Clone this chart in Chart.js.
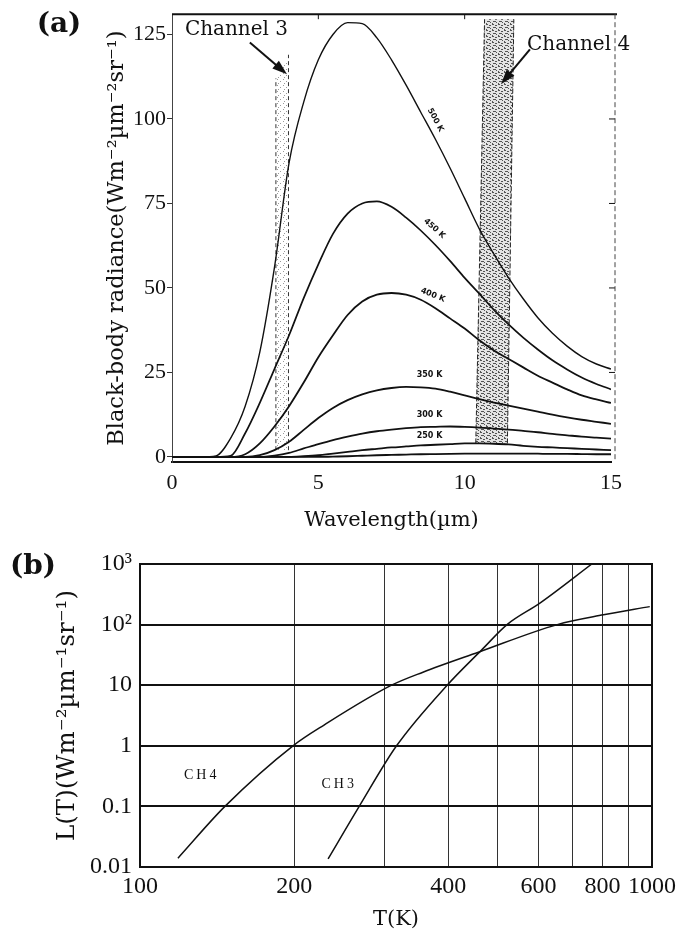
<!DOCTYPE html>
<html>
<head>
<meta charset="utf-8">
<script src="https://cdn.jsdelivr.net/npm/chart.js@4.4.0/dist/chart.umd.min.js"></script>
<style>
  html, body { margin: 0; padding: 0; background: #fff; }
  #wrap { position: relative; width: 687px; height: 935px; overflow: hidden; }
  #ca { position: absolute; left: 0; top: 0; }
  #cb { position: absolute; left: 0; top: 540px; }
</style>
</head>
<body>
<div id="wrap">
  <canvas id="ca" width="687" height="545"></canvas>
  <canvas id="cb" width="687" height="395"></canvas>
</div>
<script>
// ---- (a) black-body radiance vs wavelength ----
const WL = [0, 1, 1.5, 2, 2.5, 3, 3.5, 4, 4.5, 5, 5.5, 6, 6.5, 7, 7.5, 8, 8.5, 9, 9.5, 10, 10.5, 11, 11.5, 12, 12.5, 13, 13.5, 14, 14.5, 15];
const R500 = [0, 0, 0.3, 5.5, 15, 31, 56, 87, 105, 117.5, 125, 128.5, 128.2, 124, 117.5, 110, 102, 94, 85.5, 76.5, 67.5, 60, 53, 46.8, 41.2, 36.6, 32.8, 29.7, 27.5, 26];
const R450 = [0, 0, 0, 0.3, 7, 16, 26, 36, 47, 57, 66, 72, 75, 75.6, 74, 70.8, 67, 62.7, 58, 53, 48.3, 43.5, 39.2, 35.3, 31.8, 28.6, 25.9, 23.5, 21.6, 20];
const R400 = [0, 0, 0, 0, 0.8, 4, 9, 15, 22, 29.5, 36, 42, 46, 48, 48.5, 48, 46.5, 44, 41, 38, 34.5, 31.5, 29, 26.5, 24, 22, 20, 18.2, 17, 16];
const R350 = [0, 0, 0, 0, 0, 0.5, 2, 4.5, 8, 11.5, 14.5, 16.8, 18.5, 19.7, 20.4, 20.7, 20.6, 20.2, 19.3, 18.2, 17.1, 16.1, 15.2, 14.3, 13.4, 12.5, 11.7, 11, 10.4, 9.8];
const R300 = [0, 0, 0, 0, 0, 0, 0.4, 1.2, 2.5, 3.8, 5, 6, 6.9, 7.6, 8.1, 8.5, 8.8, 8.9, 9, 8.9, 8.7, 8.4, 8.1, 7.7, 7.3, 6.8, 6.4, 6, 5.7, 5.4];
const R250 = [0, 0, 0, 0, 0, 0, 0, 0, 0.2, 0.5, 1, 1.5, 2, 2.4, 2.8, 3.1, 3.4, 3.6, 3.8, 4, 4, 3.9, 3.7, 3.3, 3, 2.8, 2.6, 2.4, 2.2, 2];
const R200 = [0, 0, 0, 0, 0, 0, 0, 0, 0, 0, 0.1, 0.2, 0.35, 0.5, 0.6, 0.7, 0.8, 0.85, 0.9, 0.95, 1, 1, 1, 1, 0.95, 0.9, 0.9, 0.85, 0.8, 0.8];

const CURVE_LABELS = ['500 K', '450 K', '400 K', '350 K', '300 K', '250 K'];
const CURVE_LABEL_WL = [8.85, 8.85, 8.85, 8.8, 8.8, 8.8];
const CURVE_LABEL_R = [99, 66.5, 46.5, 22.8, 11, 4.6];

const CH3_WL = [3.55, 3.98];
const CH3_TOP = [112, 119];
const CH3_BOTTOM = 2;
const CH4_WL_TOP = [10.68, 11.68];
const CH4_WL_BOTTOM = [10.38, 11.46];
const CH4_R = [4, 129.5];

const CH3_TEXT = [0.44, 126.5];
const CH4_TEXT = [12.13, 122];
const CH3_ARROW = [2.66, 122.6, 3.93, 113.2];
const CH4_ARROW = [12.23, 120.6, 11.24, 110.3];

const X_TICKS_A = [0, 5, 10, 15];
const Y_TICKS_A = [0, 25, 50, 75, 100, 125];

// ---- (b) channel radiance vs temperature ----
const T_CH4 = [118.6, 146.5, 199, 228.8, 310, 357, 458, 653, 804, 990];
const L_CH4 = [0.014, 0.1, 1, 2.2, 10, 16.4, 35, 100, 145, 198];
const T_CH3 = [233, 268, 317, 398, 466, 521, 605, 763];
const L_CH3 = [0.0136, 0.1, 1, 10, 39, 100, 228, 1000];
const CH_LABELS = ['CH4', 'CH3'];
const CH_LABEL_T = [132, 245];
const CH_LABEL_L = [0.33, 0.227];

const X_GRID_B = [100, 200, 300, 400, 500, 600, 700, 800, 900, 1000];
const X_LABELS_B = [100, 200, 400, 600, 800, 1000];
const Y_TICKS_B = [0.01, 0.1, 1, 10, 100, 1000];
const Y_LABELS_B = ['0.01', '0.1', '1', '10', '10²', '10³'];

Chart.defaults.font.family = 'Liberation Serif';
Chart.defaults.color = '#111';

const INK = '#111';
const TICK_FONT_A = { family: 'Liberation Serif', size: 22 };
const TICK_FONT_B = { family: 'Liberation Serif', size: 24 };
const TITLE_FONT = { family: 'DejaVu Serif', size: 21 };

function pts(xs, ys) {
  return xs.map((v, i) => ({ x: v, y: ys[i] }));
}

function curve(data, width) {
  return {
    data,
    borderColor: INK,
    borderWidth: width,
    pointRadius: 0,
    fill: false,
    cubicInterpolationMode: 'monotone',
  };
}

function stipple(ctx, dots, color) {
  const c = document.createElement('canvas');
  c.width = 6; c.height = 6;
  const g = c.getContext('2d');
  g.fillStyle = color;
  dots.forEach(([dx, dy, w]) => g.fillRect(dx, dy, w, 1));
  return ctx.createPattern(c, 'repeat');
}

function arrow(ctx, x0, y0, x1, y1) {
  const a = Math.atan2(y1 - y0, x1 - x0), L = 15, W = 5;
  ctx.beginPath();
  ctx.moveTo(x0, y0);
  ctx.lineTo(x1 - L * 0.7 * Math.cos(a), y1 - L * 0.7 * Math.sin(a));
  ctx.stroke();
  ctx.beginPath();
  ctx.moveTo(x1, y1);
  ctx.lineTo(x1 - L * Math.cos(a) + W * Math.sin(a), y1 - L * Math.sin(a) - W * Math.cos(a));
  ctx.lineTo(x1 - L * Math.cos(a) - W * Math.sin(a), y1 - L * Math.sin(a) + W * Math.cos(a));
  ctx.closePath();
  ctx.fill();
}

const panelA = {
  id: 'panelA',
  beforeDatasetsDraw(chart) {
    const { ctx, scales: { x, y } } = chart;
    ctx.save();
    // channel 3 band
    const c3 = [
      [x.getPixelForValue(CH3_WL[0]), y.getPixelForValue(CH3_BOTTOM)],
      [x.getPixelForValue(CH3_WL[0]), y.getPixelForValue(CH3_TOP[0])],
      [x.getPixelForValue(CH3_WL[1]), y.getPixelForValue(CH3_TOP[1])],
      [x.getPixelForValue(CH3_WL[1]), y.getPixelForValue(CH3_BOTTOM)],
    ];
    ctx.fillStyle = stipple(ctx, [[1, 1, 1], [4, 3, 1], [2, 5, 1]], '#9a9a9a');
    ctx.beginPath();
    c3.forEach(([px, py], i) => (i ? ctx.lineTo(px, py) : ctx.moveTo(px, py)));
    ctx.closePath();
    ctx.fill();
    ctx.strokeStyle = '#333';
    ctx.lineWidth = 1;
    ctx.setLineDash([4, 3]);
    [[c3[0], c3[1]], [c3[3], c3[2]]].forEach(([p, q]) => {
      ctx.beginPath(); ctx.moveTo(p[0], p[1]); ctx.lineTo(q[0], q[1]); ctx.stroke();
    });
    // channel 4 band
    const c4 = [
      [x.getPixelForValue(CH4_WL_BOTTOM[0]), y.getPixelForValue(CH4_R[0])],
      [x.getPixelForValue(CH4_WL_TOP[0]), y.getPixelForValue(CH4_R[1])],
      [x.getPixelForValue(CH4_WL_TOP[1]), y.getPixelForValue(CH4_R[1])],
      [x.getPixelForValue(CH4_WL_BOTTOM[1]), y.getPixelForValue(CH4_R[0])],
    ];
    ctx.setLineDash([]);
    ctx.fillStyle = '#e4e4e4';
    ctx.beginPath();
    c4.forEach(([px, py], i) => (i ? ctx.lineTo(px, py) : ctx.moveTo(px, py)));
    ctx.closePath();
    ctx.fill();
    ctx.fillStyle = stipple(ctx, [[0, 0, 2], [3, 1, 2], [1, 3, 3], [4, 4, 1], [0, 5, 1]], '#555');
    ctx.fill();
    ctx.strokeStyle = '#222';
    ctx.setLineDash([5, 2]);
    [[c4[0], c4[1]], [c4[3], c4[2]]].forEach(([p, q]) => {
      ctx.beginPath(); ctx.moveTo(p[0], p[1]); ctx.lineTo(q[0], q[1]); ctx.stroke();
    });
    ctx.restore();
  },
  afterDraw(chart) {
    const { ctx, chartArea: a, scales: { x, y } } = chart;
    ctx.save();
    // frame: solid top, dashed right, small inner ticks
    ctx.strokeStyle = INK;
    ctx.lineWidth = 2;
    ctx.beginPath(); ctx.moveTo(a.left, a.top); ctx.lineTo(a.right + 6, a.top); ctx.stroke();
    ctx.lineWidth = 1;
    ctx.beginPath();
    X_TICKS_A.slice(1, 3).forEach(v => {
      const px = x.getPixelForValue(v);
      ctx.moveTo(px, a.top); ctx.lineTo(px, a.top + 5);
    });
    Y_TICKS_A.slice(1, 5).forEach(v => {
      const py = y.getPixelForValue(v);
      ctx.moveTo(a.right + 4, py); ctx.lineTo(a.right - 2, py);
    });
    ctx.stroke();
    ctx.strokeStyle = '#444';
    ctx.setLineDash([5, 3]);
    ctx.beginPath(); ctx.moveTo(a.right + 4, a.top); ctx.lineTo(a.right + 4, a.bottom); ctx.stroke();
    ctx.setLineDash([]);

    // channel labels and arrows
    ctx.fillStyle = INK;
    ctx.strokeStyle = INK;
    ctx.lineWidth = 2;
    ctx.font = '20px "DejaVu Serif"';
    ctx.textAlign = 'left';
    ctx.textBaseline = 'middle';
    ctx.fillText('Channel 3', x.getPixelForValue(CH3_TEXT[0]), y.getPixelForValue(CH3_TEXT[1]));
    ctx.fillText('Channel 4', x.getPixelForValue(CH4_TEXT[0]), y.getPixelForValue(CH4_TEXT[1]));
    arrow(ctx, x.getPixelForValue(CH3_ARROW[0]), y.getPixelForValue(CH3_ARROW[1]),
      x.getPixelForValue(CH3_ARROW[2]), y.getPixelForValue(CH3_ARROW[3]));
    arrow(ctx, x.getPixelForValue(CH4_ARROW[0]), y.getPixelForValue(CH4_ARROW[1]),
      x.getPixelForValue(CH4_ARROW[2]), y.getPixelForValue(CH4_ARROW[3]));

    // temperature labels along the curves
    const angles = [62, 42, 22, 0, 0, 0];
    ctx.font = 'bold 8px "DejaVu Sans"';
    ctx.textAlign = 'center';
    ctx.textBaseline = 'bottom';
    CURVE_LABELS.forEach((t, i) => {
      ctx.save();
      ctx.translate(x.getPixelForValue(CURVE_LABEL_WL[i]), y.getPixelForValue(CURVE_LABEL_R[i]));
      ctx.rotate(angles[i] * Math.PI / 180);
      ctx.fillText(t, 0, -1);
      ctx.restore();
    });

    // panel letter
    ctx.font = 'bold 28px "DejaVu Serif"';
    ctx.textAlign = 'center';
    ctx.textBaseline = 'middle';
    ctx.fillText('(a)', 59, 25);
    ctx.restore();
  },
};

new Chart(document.getElementById('ca'), {
  type: 'line',
  data: {
    datasets: [
      curve(pts(WL, R500), 1.4),
      curve(pts(WL, R450), 1.7),
      curve(pts(WL, R400), 1.8),
      curve(pts(WL, R350), 1.8),
      curve(pts(WL, R300), 1.8),
      curve(pts(WL, R250), 1.8),
      curve(pts(WL, R200), 1.8),
    ],
  },
  options: {
    responsive: false,
    animation: false,
    layout: { padding: { top: 12, right: 76, left: 0, bottom: 0 } },
    plugins: { legend: { display: false }, tooltip: { enabled: false } },
    scales: {
      x: {
        type: 'linear', min: 0, max: 15,
        afterBuildTicks: s => { s.ticks = X_TICKS_A.map(v => ({ value: v })); },
        afterFit: s => { s.height = 83; },
        grid: { display: false },
        border: { display: true, color: INK, width: 2 },
        ticks: { font: TICK_FONT_A, color: INK, padding: 0, maxRotation: 0 },
        title: { display: true, text: 'Wavelength(µm)', font: TITLE_FONT, color: INK, padding: { top: 0, bottom: 12 } },
      },
      y: {
        type: 'linear', min: -1.5, max: 131,
        afterBuildTicks: s => { s.ticks = Y_TICKS_A.map(v => ({ value: v })); },
        afterFit: s => { s.width = 172; },
        grid: { drawOnChartArea: false, drawTicks: true, tickLength: 5, color: '#333', lineWidth: 1 },
        border: { display: true, color: '#444', width: 1, dash: [5, 2] },
        ticks: { font: TICK_FONT_A, color: INK, padding: 1 },
        title: { display: true, text: 'Black-body radiance(Wm⁻²µm⁻²sr⁻¹)', font: { family: 'DejaVu Serif', size: 22.5 }, color: INK, padding: { top: 104, bottom: 0 } },
      },
    },
  },
  plugins: [panelA],
});

const panelB = {
  id: 'panelB',
  afterDraw(chart) {
    const { ctx, chartArea: a, scales: { x, y } } = chart;
    ctx.save();
    ctx.strokeStyle = INK;
    ctx.lineWidth = 2;
    ctx.strokeRect(a.left, a.top, a.right - a.left, a.bottom - a.top);
    ctx.fillStyle = INK;
    ctx.font = '14px "Liberation Serif"';
    ctx.letterSpacing = '3px';
    ctx.textAlign = 'center';
    ctx.textBaseline = 'middle';
    CH_LABELS.forEach((t, i) => {
      ctx.fillText(t, x.getPixelForValue(CH_LABEL_T[i]), y.getPixelForValue(CH_LABEL_L[i]));
    });
    ctx.letterSpacing = '0px';
    ctx.font = 'bold 28px "DejaVu Serif"';
    ctx.fillText('(b)', 33, 27);
    ctx.restore();
  },
};

new Chart(document.getElementById('cb'), {
  type: 'line',
  data: {
    datasets: [
      curve(pts(T_CH4, L_CH4), 1.5),
      curve(pts(T_CH3, L_CH3), 1.5),
    ],
  },
  options: {
    responsive: false,
    animation: false,
    layout: { padding: { top: 24, right: 35, left: 0, bottom: 0 } },
    plugins: { legend: { display: false }, tooltip: { enabled: false } },
    scales: {
      x: {
        type: 'logarithmic', min: 100, max: 1000,
        afterBuildTicks: s => { s.ticks = X_GRID_B.map(v => ({ value: v })); },
        afterFit: s => { s.height = 68; },
        grid: { color: '#333', lineWidth: 1, drawTicks: false },
        border: { display: true, color: INK, width: 2 },
        ticks: {
          font: TICK_FONT_B, color: INK, padding: 5, autoSkip: false, maxRotation: 0,
          callback: v => (X_LABELS_B.includes(v) ? String(v) : ''),
        },
        title: { display: true, text: 'T(K)', font: TITLE_FONT, color: INK, padding: { top: 0, bottom: 3 } },
      },
      y: {
        type: 'logarithmic', min: 0.01, max: 1000,
        afterBuildTicks: s => { s.ticks = Y_TICKS_B.map(v => ({ value: v })); },
        afterFit: s => { s.width = 140; },
        grid: { color: INK, lineWidth: 2, drawTicks: false },
        border: { display: true, color: INK, width: 2 },
        ticks: { font: TICK_FONT_B, color: INK, padding: 8, autoSkip: false, callback: (v, i) => Y_LABELS_B[i] },
        title: { display: true, text: 'L(T)(Wm⁻²µm⁻¹sr⁻¹)', font: { family: 'DejaVu Serif', size: 24.5 }, color: INK, padding: { top: 53, bottom: 0 } },
      },
    },
  },
  plugins: [panelB],
});
</script>
</body>
</html>
